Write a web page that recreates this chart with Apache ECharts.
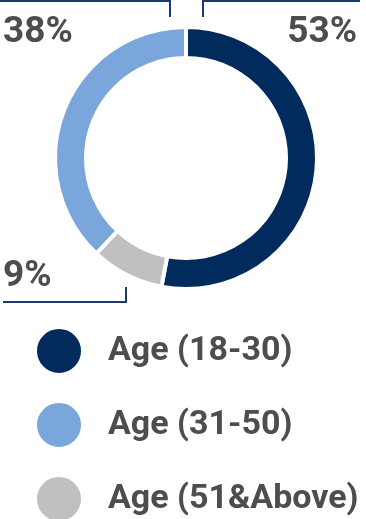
<!DOCTYPE html>
<html>
<head>
<meta charset="utf-8">
<script src="https://cdn.jsdelivr.net/npm/echarts@6/dist/echarts.min.js"></script>
<style>html,body{margin:0;padding:0;background:#fff;}#c{width:366px;height:519px;}</style>
</head>
<body>
<div id="c"></div>
<script>
var categories = ['Age (18-30)', 'Age (31-50)', 'Age (51&Above)'];
var values = [53, 38, 9];
var colors = ['#002b5c', '#7ba6dc', '#c0c0c0'];
// drawing order around the ring (clockwise from top)
var ringOrder = [0, 2, 1];

var chart = echarts.init(document.getElementById('c'), null, {renderer: 'canvas'});
var data = ringOrder.map(function (i) {
  return {name: categories[i], value: values[i], itemStyle: {color: colors[i]}};
});
var lineColor = '#1c3a68';
var layouts = {
  'Age (18-30)': {x: 357, y: 33, align: 'right', pts: [[203, 17], [203, 1], [360, 1]]},
  'Age (31-50)': {x: 3, y: 33, align: 'left', pts: [[170, 17], [170, 1], [0, 1]]},
  'Age (51&Above)': {x: 3, y: 277, align: 'left', pts: [[126, 287], [126, 302], [3, 302]]}
};
chart.setOption({
  animation: false,
  legend: {
    orient: 'vertical',
    left: 35,
    top: 327,
    padding: 0,
    width: 330,
    height: 200,
    icon: 'circle',
    itemWidth: 46,
    itemHeight: 46,
    itemGap: 26,
    data: categories,
    textStyle: {fontFamily: 'Roboto', fontWeight: 'bold', fontSize: 34, color: '#4d4d4d', padding: [0, 0, 0, 21]},
    selectedMode: false
  },
  series: [{
    type: 'pie',
    center: [186, 158],
    radius: [100, 131],
    startAngle: 90,
    clockwise: true,
    avoidLabelOverlap: false,
    itemStyle: {borderColor: '#fff', borderWidth: 4},
    label: {
      show: true,
      position: 'outside',
      formatter: '{c}%',
      fontFamily: 'Roboto',
      fontWeight: 'bold',
      fontSize: 37,
      color: '#4d4d4d'
    },
    labelLine: {show: true, lineStyle: {color: lineColor, width: 2}},
    labelLayout: function (p) {
      var name = data[p.dataIndex].name;
      var l = layouts[name];
      return {x: l.x, y: l.y, align: l.align, verticalAlign: 'middle', labelLinePoints: l.pts};
    },
    data: data
  }]
});
</script>
</body>
</html>
